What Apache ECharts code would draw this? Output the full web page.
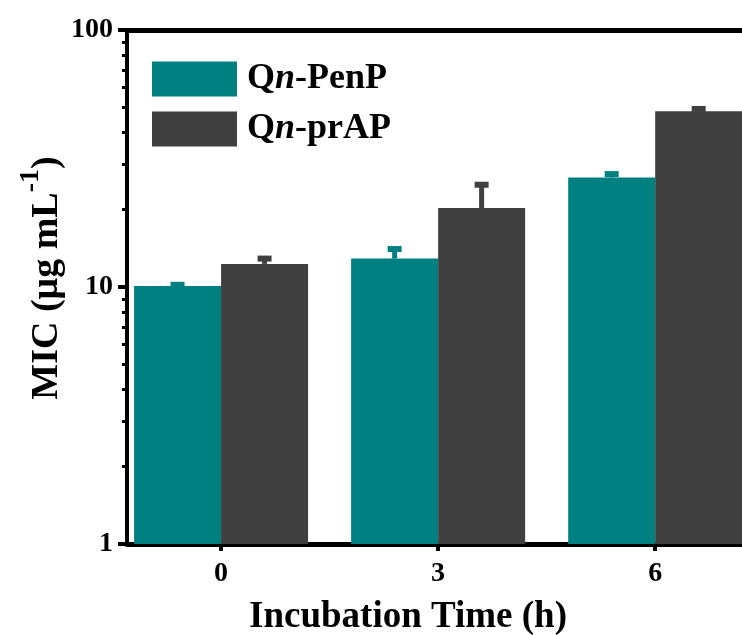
<!DOCTYPE html>
<html>
<head>
<meta charset="utf-8">
<script src="https://cdn.jsdelivr.net/npm/echarts@6/dist/echarts.min.js"></script>
<style>html,body{margin:0;padding:0;background:#fff}#c{width:742px;height:635px}</style>
</head>
<body>
<div id="c"></div>
<script>
// ---- data ----
var hours = [0, 3, 6];
var seriesNames = ['Qn-PenP', 'Qn-prAP'];
var penpMIC = [10.1, 12.9, 26.7];
var penpErrTop = [10.2, 14.05, 27.5];
var prapMIC = [12.3, 20.3, 48.3];
var prapErrTop = [12.9, 25.0, 49.3];
var yTickValues = [1, 10, 100];
var xTickValues = [0, 3, 6];
var yMinorTickValues = [2,3,4,5,6,7,8,9,20,30,40,50,60,70,80,90];

var FONT = '"Liberation Serif","Times New Roman",serif';
var TEAL = '#008080', DARK = '#404040';
var BAR_W = 87;

function pairs(xs, ys) { return xs.map(function (x, i) { return [x, ys[i]]; }); }

function errSeries(name, tops, vals, color, shift) {
  return {
    type: 'custom', name: name + '_err', silent: true, z: 3,
    data: hours.map(function (h, i) { return [h, vals[i], tops[i]]; }),
    renderItem: function (params, api) {
      var base = api.coord([api.value(0), api.value(1)]);
      var top = api.coord([api.value(0), api.value(2)]);
      var cx = base[0] + shift;
      return {
        type: 'group',
        children: [
          { type: 'rect', shape: { x: cx - 2.5, y: top[1], width: 5, height: Math.max(0, base[1] - top[1]) }, style: { fill: color } },
          { type: 'rect', shape: { x: cx - 7, y: top[1] - 3, width: 14, height: 6 }, style: { fill: color } }
        ]
      };
    }
  };
}

var chart = echarts.init(document.getElementById('c'));
chart.setOption({
  animation: false,
  backgroundColor: '#fff',
  grid: { left: 127, right: 0, top: 30, bottom: 91, containLabel: false },
  legend: {
    orient: 'vertical', left: 147, top: 56, itemWidth: 85, itemHeight: 35, itemGap: 14,
    icon: 'rect', data: seriesNames, selectedMode: false,
    formatter: function (n) { return '{r|Q}{i|n}{r|' + n.slice(2) + '}'; },
    textStyle: {
      padding: [0, 0, 0, 5], lineHeight: 35,
      rich: {
        r: { fontFamily: FONT, fontWeight: 'bold', fontSize: 36, color: '#000', lineHeight: 35 },
        i: { fontFamily: FONT, fontWeight: 'bold', fontStyle: 'italic', fontSize: 36, color: '#000', lineHeight: 35 }
      }
    }
  },
  xAxis: [{
    type: 'value', min: -1.3, max: 7.2, position: 'bottom',
    splitLine: { show: false },
    axisLine: { show: true, onZero: false, lineStyle: { color: '#000', width: 5 } },
    axisTick: { show: true, customValues: xTickValues, length: 7, lineStyle: { color: '#000', width: 4 } },
    axisLabel: { customValues: xTickValues, margin: 16, fontFamily: FONT, fontWeight: 'bold', fontSize: 28, color: '#000' }
  }, {
    type: 'value', min: -1.3, max: 7.2, position: 'top',
    splitLine: { show: false },
    axisLine: { show: true, onZero: false, lineStyle: { color: '#000', width: 5 } },
    axisTick: { show: false }, axisLabel: { show: false }
  }],
  yAxis: [{
    type: 'log', logBase: 10, min: 1, max: 100, position: 'left',
    splitLine: { show: false },
    axisLine: { show: true, onZero: false, lineStyle: { color: '#000', width: 4 } },
    axisTick: { show: true, length: 9, lineStyle: { color: '#000', width: 4 } },
    axisLabel: { margin: 14, fontFamily: FONT, fontWeight: 'bold', fontSize: 28, color: '#000',
      formatter: function (v) { return String(Math.round(v)); } }
  }, {
    type: 'log', logBase: 10, min: 1, max: 100, position: 'left',
    splitLine: { show: false },
    axisLine: { show: false, onZero: false },
    axisTick: { show: true, customValues: yMinorTickValues, length: 5, lineStyle: { color: '#000', width: 3 } },
    axisLabel: { show: false }
  }],
  graphic: [{
    type: 'text', x: 47, y: 278, rotation: Math.PI / 2,
    style: {
      text: '{m|MIC (μg mL}{s|-1}{m|)}', align: 'center', verticalAlign: 'middle',
      rich: {
        m: { fontFamily: FONT, fontWeight: 'bold', fontSize: 38, fill: '#000' },
        s: { fontFamily: FONT, fontWeight: 'bold', fontSize: 28, fill: '#000', padding: [0, 0, 32, 0] }
      }
    }
  }, {
    type: 'text', x: 408, y: 617,
    style: { text: 'Incubation Time (h)', align: 'center', verticalAlign: 'middle',
      font: 'bold 37px ' + FONT, fill: '#000' }
  }],
  series: [{
    type: 'bar', name: seriesNames[0], data: pairs(hours, penpMIC), barWidth: BAR_W, barGap: '0%',
    itemStyle: { color: TEAL }, z: 2
  }, {
    type: 'bar', name: seriesNames[1], data: pairs(hours, prapMIC), barWidth: BAR_W, barGap: '0%',
    itemStyle: { color: DARK }, z: 2
  },
  errSeries(seriesNames[0], penpErrTop, penpMIC, TEAL, -BAR_W / 2),
  errSeries(seriesNames[1], prapErrTop, prapMIC, DARK, BAR_W / 2)
  ]
});
</script>
</body>
</html>
